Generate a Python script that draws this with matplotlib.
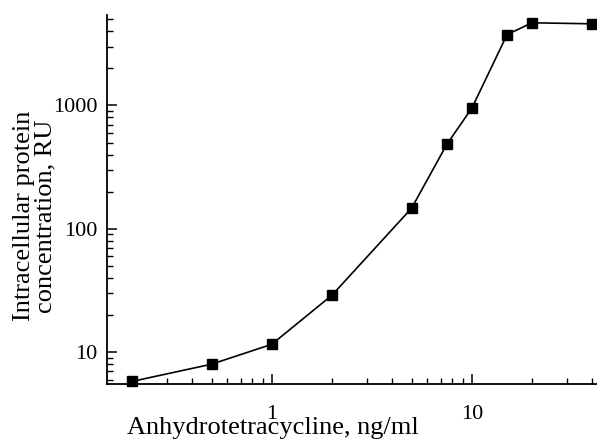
import numpy as np
import matplotlib.pyplot as plt
from matplotlib.ticker import LogLocator, FixedLocator, NullFormatter

# dose (ng/ml) and measured protein level (RU)
dose = [0.2, 0.5, 1, 2, 5, 7.5, 10, 15, 20, 40]
protein = [5.8, 8.0, 11.6, 29, 147, 484, 950, 3750, 4670, 4580]

x_ticks = [1, 10]
x_tick_labels = ['1', '10']
y_ticks = [10, 100, 1000]
y_tick_labels = ['10', '100', '1000']

plt.rcParams['font.family'] = ['Liberation Serif', 'DejaVu Serif']

fig = plt.figure(figsize=(5.97, 4.41), dpi=100)
ax = fig.add_axes([0.179, 0.129, 0.821, 0.837])

ax.plot(dose, protein, color='black', linewidth=1.2, marker='s',
        markersize=7.5, markerfacecolor='black', markeredgecolor='black',
        clip_on=False, zorder=3)

ax.set_xscale('log')
ax.set_yscale('log')
ax.set_xlim(0.15, 42.2)
ax.set_ylim(5.52, 5400)

ax.xaxis.set_major_locator(FixedLocator(x_ticks))
ax.set_xticklabels(x_tick_labels)
ax.xaxis.set_minor_locator(LogLocator(base=10, subs=np.arange(2, 10)))
ax.xaxis.set_minor_formatter(NullFormatter())
ax.yaxis.set_major_locator(FixedLocator(y_ticks))
ax.set_yticklabels(y_tick_labels)
ax.yaxis.set_minor_locator(LogLocator(base=10, subs=np.arange(2, 10)))
ax.yaxis.set_minor_formatter(NullFormatter())

for side in ['top', 'right']:
    ax.spines[side].set_visible(False)
for side in ['left', 'bottom']:
    ax.spines[side].set_linewidth(1.3)

ax.tick_params(which='major', direction='in', length=7, width=1.1,
               labelsize=16, pad=7)
ax.tick_params(which='minor', direction='in', length=4, width=1.0)
ax.tick_params(axis='x', which='major', pad=15)

ax.set_xlabel('Anhydrotetracycline, ng/ml', fontsize=19, va='top')
ax.xaxis.set_label_coords(0.339, -0.09)
ax.set_ylabel('Intracellular protein\nconcentration, RU', fontsize=19,
              linespacing=0.95, va='bottom')
ax.yaxis.set_label_coords(-0.103, 0.455)

fig.savefig('out.png', dpi=100)
